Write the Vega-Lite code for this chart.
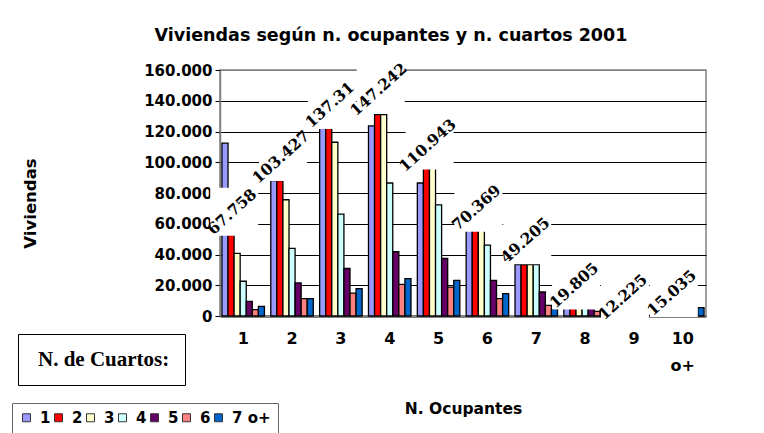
{
  "$schema": "https://vega.github.io/schema/vega-lite/v6.json",
  "autosize": {"type": "none"},
  "width": 486,
  "height": 246,
  "padding": {"left": 220, "top": 70, "right": 58, "bottom": 117},
  "background": "white",
  "config": {
    "locale": {"number": {"decimal": ",", "thousands": ".", "grouping": [3], "currency": ["", " €"]}},
    "view": {"stroke": "#808080", "strokeWidth": 1.5},
    "font": "DejaVu Sans"
  },
  "title": {
    "text": "Viviendas según n. ocupantes y n. cuartos 2001",
    "font": "DejaVu Sans",
    "fontSize": 17.5,
    "fontWeight": "bold",
    "color": "black",
    "anchor": "middle",
    "dx": -72,
    "offset": 16
  },
  "datasets": {
    "barras": [
      {"ocupantes": "1", "cuartos": "1", "viviendas": 112500},
      {"ocupantes": "1", "cuartos": "2", "viviendas": 53000},
      {"ocupantes": "1", "cuartos": "3", "viviendas": 40700},
      {"ocupantes": "1", "cuartos": "4", "viviendas": 22600},
      {"ocupantes": "1", "cuartos": "5", "viviendas": 9500},
      {"ocupantes": "1", "cuartos": "6", "viviendas": 4100},
      {"ocupantes": "1", "cuartos": "7 o+", "viviendas": 6200},
      {"ocupantes": "2", "cuartos": "1", "viviendas": 88000},
      {"ocupantes": "2", "cuartos": "2", "viviendas": 88000},
      {"ocupantes": "2", "cuartos": "3", "viviendas": 75600},
      {"ocupantes": "2", "cuartos": "4", "viviendas": 44000},
      {"ocupantes": "2", "cuartos": "5", "viviendas": 21500},
      {"ocupantes": "2", "cuartos": "6", "viviendas": 11300},
      {"ocupantes": "2", "cuartos": "7 o+", "viviendas": 11300},
      {"ocupantes": "3", "cuartos": "1", "viviendas": 123000},
      {"ocupantes": "3", "cuartos": "2", "viviendas": 123000},
      {"ocupantes": "3", "cuartos": "3", "viviendas": 113000},
      {"ocupantes": "3", "cuartos": "4", "viviendas": 66200},
      {"ocupantes": "3", "cuartos": "5", "viviendas": 30900},
      {"ocupantes": "3", "cuartos": "6", "viviendas": 14900},
      {"ocupantes": "3", "cuartos": "7 o+", "viviendas": 17800},
      {"ocupantes": "4", "cuartos": "1", "viviendas": 123600},
      {"ocupantes": "4", "cuartos": "2", "viviendas": 131000},
      {"ocupantes": "4", "cuartos": "3", "viviendas": 131000},
      {"ocupantes": "4", "cuartos": "4", "viviendas": 86500},
      {"ocupantes": "4", "cuartos": "5", "viviendas": 41800},
      {"ocupantes": "4", "cuartos": "6", "viviendas": 20600},
      {"ocupantes": "4", "cuartos": "7 o+", "viviendas": 24300},
      {"ocupantes": "5", "cuartos": "1", "viviendas": 86500},
      {"ocupantes": "5", "cuartos": "2", "viviendas": 96000},
      {"ocupantes": "5", "cuartos": "3", "viviendas": 96000},
      {"ocupantes": "5", "cuartos": "4", "viviendas": 72300},
      {"ocupantes": "5", "cuartos": "5", "viviendas": 37400},
      {"ocupantes": "5", "cuartos": "6", "viviendas": 18800},
      {"ocupantes": "5", "cuartos": "7 o+", "viviendas": 23200},
      {"ocupantes": "6", "cuartos": "1", "viviendas": 56000},
      {"ocupantes": "6", "cuartos": "2", "viviendas": 56000},
      {"ocupantes": "6", "cuartos": "3", "viviendas": 56000},
      {"ocupantes": "6", "cuartos": "4", "viviendas": 46100},
      {"ocupantes": "6", "cuartos": "5", "viviendas": 23200},
      {"ocupantes": "6", "cuartos": "6", "viviendas": 11300},
      {"ocupantes": "6", "cuartos": "7 o+", "viviendas": 14500},
      {"ocupantes": "7", "cuartos": "1", "viviendas": 33500},
      {"ocupantes": "7", "cuartos": "2", "viviendas": 33500},
      {"ocupantes": "7", "cuartos": "3", "viviendas": 33500},
      {"ocupantes": "7", "cuartos": "4", "viviendas": 33500},
      {"ocupantes": "7", "cuartos": "5", "viviendas": 15600},
      {"ocupantes": "7", "cuartos": "6", "viviendas": 6900},
      {"ocupantes": "7", "cuartos": "7 o+", "viviendas": 4700},
      {"ocupantes": "8", "cuartos": "1", "viviendas": 5500},
      {"ocupantes": "8", "cuartos": "2", "viviendas": 5500},
      {"ocupantes": "8", "cuartos": "3", "viviendas": 5500},
      {"ocupantes": "8", "cuartos": "4", "viviendas": 5500},
      {"ocupantes": "8", "cuartos": "5", "viviendas": 5500},
      {"ocupantes": "8", "cuartos": "6", "viviendas": 3000},
      {"ocupantes": "8", "cuartos": "7 o+", "viviendas": 4000},
      {"ocupantes": "9", "cuartos": "1", "viviendas": 3500},
      {"ocupantes": "9", "cuartos": "2", "viviendas": 3000},
      {"ocupantes": "9", "cuartos": "3", "viviendas": 2500},
      {"ocupantes": "9", "cuartos": "4", "viviendas": 1500},
      {"ocupantes": "9", "cuartos": "5", "viviendas": 1000},
      {"ocupantes": "9", "cuartos": "6", "viviendas": 500},
      {"ocupantes": "9", "cuartos": "7 o+", "viviendas": 300},
      {"ocupantes": "10 o+", "cuartos": "1", "viviendas": 2500},
      {"ocupantes": "10 o+", "cuartos": "2", "viviendas": 2500},
      {"ocupantes": "10 o+", "cuartos": "3", "viviendas": 2500},
      {"ocupantes": "10 o+", "cuartos": "4", "viviendas": 2000},
      {"ocupantes": "10 o+", "cuartos": "5", "viviendas": 2000},
      {"ocupantes": "10 o+", "cuartos": "6", "viviendas": 1500},
      {"ocupantes": "10 o+", "cuartos": "7 o+", "viviendas": 5400}
    ],
    "totales": [
      {"ocupantes": "1", "viviendas": 67758, "etiqueta": "67.758"},
      {"ocupantes": "2", "viviendas": 103427, "etiqueta": "103.427"},
      {"ocupantes": "3", "viviendas": 137310, "etiqueta": "137.31"},
      {"ocupantes": "4", "viviendas": 147242, "etiqueta": "147.242"},
      {"ocupantes": "5", "viviendas": 110943, "etiqueta": "110.943"},
      {"ocupantes": "6", "viviendas": 70369, "etiqueta": "70.369"},
      {"ocupantes": "7", "viviendas": 49205, "etiqueta": "49.205"},
      {"ocupantes": "8", "viviendas": 19805, "etiqueta": "19.805"},
      {"ocupantes": "9", "viviendas": 12225, "etiqueta": "12.225"},
      {"ocupantes": "10 o+", "viviendas": 15035, "etiqueta": "15.035"}
    ]
  },
  "encoding": {
    "x": {
      "field": "ocupantes",
      "type": "nominal",
      "sort": ["1", "2", "3", "4", "5", "6", "7", "8", "9", "10 o+"],
      "scale": {"paddingInner": 0.13, "paddingOuter": 0.04},
      "axis": {
        "title": "N. Ocupantes",
        "labelAngle": 0,
        "labelExpr": "split(datum.label, ' ')",
        "labelLineHeight": 27,
        "labelFont": "DejaVu Sans",
        "labelFontSize": 16,
        "labelFontWeight": "bold",
        "labelColor": "black",
        "labelPadding": 14,
        "ticks": false,
        "domainColor": "#808080",
        "domainWidth": 3,
        "titleFont": "DejaVu Sans",
        "titleFontSize": 15.5,
        "titleFontWeight": "bold",
        "titleColor": "black",
        "titleBaseline": "middle",
        "titleY": 92
      }
    },
    "y": {
      "field": "viviendas",
      "type": "quantitative",
      "scale": {"domain": [0, 160000], "nice": false},
      "axis": {
        "title": "Viviendas",
        "values": [0, 20000, 40000, 60000, 80000, 100000, 120000, 140000, 160000],
        "format": ",d",
        "labelFont": "DejaVu Sans",
        "labelFontSize": 15,
        "labelFontWeight": "bold",
        "labelColor": "black",
        "labelPadding": 3,
        "tickSize": 5,
        "tickColor": "black",
        "domainColor": "#808080",
        "domainWidth": 1.5,
        "gridColor": {"condition": {"test": "datum.value === 160000", "value": "#808080"}, "value": "black"},
        "gridWidth": 1,
        "titleFont": "DejaVu Sans",
        "titleFontSize": 16.5,
        "titleFontWeight": "bold",
        "titleColor": "black",
        "titleAngle": 270,
        "titleAlign": "center",
        "titleBaseline": "middle",
        "titleX": -190,
        "titleY": 133
      }
    }
  },
  "layer": [
    {
      "data": {"name": "barras"},
      "mark": {"type": "bar", "stroke": "black", "strokeWidth": 1.3},
      "encoding": {
        "xOffset": {"field": "cuartos", "type": "nominal", "sort": ["1", "2", "3", "4", "5", "6", "7 o+"], "scale": {"paddingInner": 0, "paddingOuter": 0}},
        "fill": {
          "field": "cuartos",
          "type": "nominal",
          "sort": ["1", "2", "3", "4", "5", "6", "7 o+"],
          "scale": {
            "domain": ["1", "2", "3", "4", "5", "6", "7 o+"],
            "range": ["#9999FF", "#FF0000", "#FFFFCC", "#CCFFFF", "#660066", "#FF8080", "#0066CC"]
          },
          "legend": {
            "orient": "none",
            "legendX": -208,
            "legendY": 333,
            "direction": "horizontal",
            "columns": 7,
            "title": null,
            "symbolType": "square",
            "symbolSize": 64,
            "symbolStrokeColor": "#333333",
            "symbolStrokeWidth": 1,
            "symbolOpacity": 1,
            "labelFont": "DejaVu Sans",
            "labelFontSize": 15,
            "labelFontWeight": "bold",
            "labelColor": "black",
            "labelOffset": 6,
            "columnPadding": 0,
            "padding": 7,
            "strokeColor": "#666666",
            "fillColor": "white"
          }
        }
      }
    },
    {
      "data": {"name": "totales"},
      "mark": {"type": "point", "shape": "square", "filled": true, "fill": "white", "opacity": 1, "strokeWidth": 0, "size": 2304, "xOffset": -9}
    },
    {
      "data": {"name": "totales"},
      "mark": {"type": "point", "opacity": 0, "size": 1},
      "encoding": {
        "shape": {
          "datum": "N. de Cuartos:",
          "scale": {"range": ["square"]},
          "legend": {
            "orient": "none",
            "legendX": -202,
            "legendY": 264,
            "title": null,
            "symbolSize": 16,
            "symbolOpacity": 0,
            "symbolStrokeWidth": 0,
            "labelOffset": -16,
            "labelFont": "Liberation Serif",
            "labelFontSize": 21,
            "labelFontWeight": "bold",
            "labelColor": "black",
            "labelLimit": 300,
            "strokeColor": "black",
            "padding": 15,
            "fillColor": "white"
          }
        }
      }
    },
    {
      "data": {"name": "totales"},
      "mark": {"type": "text", "angle": 318, "font": "DejaVu Serif", "fontWeight": "bold", "fontSize": 15.5, "color": "black", "align": "center", "baseline": "middle", "xOffset": -11},
      "encoding": {"text": {"field": "etiqueta"}}
    }
  ]
}
